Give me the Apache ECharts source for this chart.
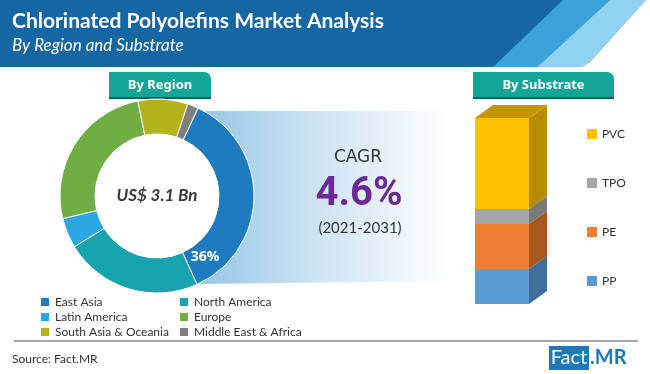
<!DOCTYPE html>
<html><head><meta charset="utf-8">
<script src="https://cdn.jsdelivr.net/npm/echarts@6/dist/echarts.min.js"></script>
<style>html,body{margin:0;padding:0;background:#fff}#c{width:650px;height:374px}</style>
</head><body><div id="c"></div>
<script>
// Region split (share of market, %)
const regionNames = ['East Asia','North America','Latin America','Europe','South Asia & Oceania','Middle East & Africa'];
const regionValues = [36.3, 23.0, 5.0, 25.6, 8.3, 1.8];
const regionColors = ['#1c7cbf','#17a4ae','#2aa6e0','#6fae44','#b3b31c','#7f7f7f'];
// Substrate split (%), bottom to top
const substrateNames = ['PP','PE','TPO','PVC'];
const substrateValues = [18.8, 24.2, 8.1, 48.9];
const substrateColors = ['#5b9bd5','#ed7d31','#a5a5a5','#ffc000'];
const substrateSide = ['#3f6f9c','#a9561f','#7a7a7a','#b98c00'];
const marketSize = 'US$ 3.1 Bn';
const cagrValue = '4.6%';
const cagrPeriod = '(2021-2031)';

const chart = echarts.init(document.getElementById('c'), null, {renderer:'canvas'});

let acc = 0;
const barSeries = substrateNames.map((n,i)=>{
  const s = acc; acc += substrateValues[i];
  const isTop = i === substrateNames.length-1;
  return {
    name:n, type:'custom', xAxisIndex:0, yAxisIndex:0,
    itemStyle:{color:substrateColors[i]},
    data:[[0, s, acc]],
    renderItem:function(params, api){
      const p0 = api.coord([0, api.value(1)]);
      const p1 = api.coord([0, api.value(2)]);
      const w = api.size([1,0])[0];
      const x0 = p0[0]-w/2, x1 = p0[0]+w/2;
      const dx = 18, dy = -13;
      const ch = [
        {type:'rect', shape:{x:x0, y:p1[1], width:w, height:p0[1]-p1[1]}, style:{fill:substrateColors[i]}},
        {type:'polygon', shape:{points:[[x1,p0[1]],[x1,p1[1]],[x1+dx,p1[1]+dy],[x1+dx,p0[1]+dy]]}, style:{fill:substrateSide[i]}}
      ];
      if(isTop){
        ch.push({type:'polygon', shape:{points:[[x0,p1[1]],[x1,p1[1]],[x1+dx,p1[1]+dy],[x0+dx,p1[1]+dy]]}, style:{fill:'#c39600'}});
      }
      return {type:'group', children:ch};
    }
  };
});

const tab = (x,y,w,h,label)=>({type:'group', children:[
  {type:'rect', shape:{x:x,y:y,width:w,height:h,r:[0,7,0,0]}, style:{fill:'#15a596'}},
  {type:'rect', shape:{x:x,y:y+h-2,width:w,height:2}, style:{fill:'#0c5e57'}},
  {type:'text', x:x+w/2, y:y+h/2, style:{text:label, fill:'#fff', font:'bold 13px "Noto Sans"', align:'center', verticalAlign:'middle'}}
]});

const legText = {color:'#333', fontFamily:'Lato', fontSize:12};

chart.setOption({
  animation:false,
  graphic:[
    {type:'rect', z:-10, shape:{x:0,y:0,width:650,height:67}, style:{fill:'#1766a4'}},
    {type:'polygon', z:-9, shape:{points:[[563,0],[610,0],[545,60],[537,67],[493,67]]}, style:{fill:'#3aa3da'}},
    {type:'polygon', z:-9, shape:{points:[[610,0],[646,0],[590,62],[582,67],[537,67],[545,60]]}, style:{fill:'#8fd3f0'}},
    {type:'polygon', z:-9, shape:{points:[[646,0],[650,0],[650,67],[582,67],[590,62]]}, style:{fill:'#ffffff'}},
    {type:'text', x:12, y:21, style:{text:'Chlorinated Polyolefins Market Analysis', fill:'#fff', font:'bold 21px Lato', verticalAlign:'middle'}},
    {type:'text', x:12, y:46, style:{text:'By Region and Substrate', fill:'#fff', font:'italic 17px Lato', verticalAlign:'middle'}},
    tab(109,72,102,27,'By Region'),
    tab(473,72,141,27,'By Substrate'),
    {type:'polygon', z:-5, shape:{points:[[190,111],[450,111],[450,281],[197,284]]},
      style:{fill:new echarts.graphic.LinearGradient(0,0,1,0,[{offset:0,color:'#92c4e6'},{offset:0.5,color:'#cfe4f3'},{offset:1,color:'#ffffff'}])}},
    {type:'circle', z:-4, shape:{cx:157, cy:196, r:63}, style:{fill:'#ffffff'}},
    {type:'text', z:10, x:157, y:196, style:{text:marketSize, fill:'#3a3a3a', font:'italic bold 17px Lato', align:'center', verticalAlign:'middle'}},
    {type:'text', z:10, x:205, y:257, style:{text:'36%', fill:'#fff', font:'bold 14px "Noto Sans"', align:'center', verticalAlign:'middle'}},
    {type:'text', x:358, y:158, style:{text:'CAGR', fill:'#333', font:'17px "DejaVu Sans"', align:'center', verticalAlign:'middle'}},
    {type:'text', x:359, y:195, style:{text:cagrValue, fill:'#6b2a92', font:'bold 40px Roboto', align:'center', verticalAlign:'middle'}},
    {type:'text', x:360, y:228, style:{text:cagrPeriod, fill:'#333', font:'15px Lato', align:'center', verticalAlign:'middle'}},
    {type:'line', shape:{x1:14,y1:341,x2:638,y2:341}, style:{stroke:'#8a8a8a', lineWidth:1.5}},
    {type:'text', x:12, y:359, style:{text:'Source: Fact.MR', fill:'#333', font:'12px Lato', verticalAlign:'middle'}},
    {type:'rect', shape:{x:549,y:346,width:40,height:24}, style:{fill:'#1f78b8'}},
    {type:'text', x:569, y:358, style:{text:'Fact', fill:'#fff', font:'20px Lato', align:'center', verticalAlign:'middle'}},
    {type:'text', x:590, y:358, style:{text:'.MR', fill:'#1f78b8', font:'bold 20px Lato', verticalAlign:'middle'}}
  ],
  legend:[
    {data:[regionNames[0],regionNames[2],regionNames[4]], orient:'vertical', left:34, top:291, itemWidth:10, itemHeight:10, itemGap:3, icon:'rect', textStyle:legText},
    {data:[regionNames[1],regionNames[3],regionNames[5]], orient:'vertical', left:173, top:291, itemWidth:10, itemHeight:10, itemGap:3, icon:'rect', textStyle:legText},
    {data:['PVC','TPO','PE','PP'], orient:'vertical', left:582, top:123, itemWidth:10, itemHeight:10, itemGap:37, icon:'rect', textStyle:legText}
  ],
  grid:{left:475, top:118, width:54, height:186},
  xAxis:{type:'category', data:['Substrate'], show:false},
  yAxis:{type:'value', min:0, max:100, show:false},
  series:[
    {type:'pie', name:'Region', center:[157,196], radius:[62,97], startAngle:65, clockwise:true,
      label:{show:false}, labelLine:{show:false}, silent:true,
      itemStyle:{borderColor:'#fff', borderWidth:1},
      data:regionNames.map((n,i)=>({name:n, value:regionValues[i], itemStyle:{color:regionColors[i]}}))},
    ...barSeries
  ]
});
</script></body></html>
